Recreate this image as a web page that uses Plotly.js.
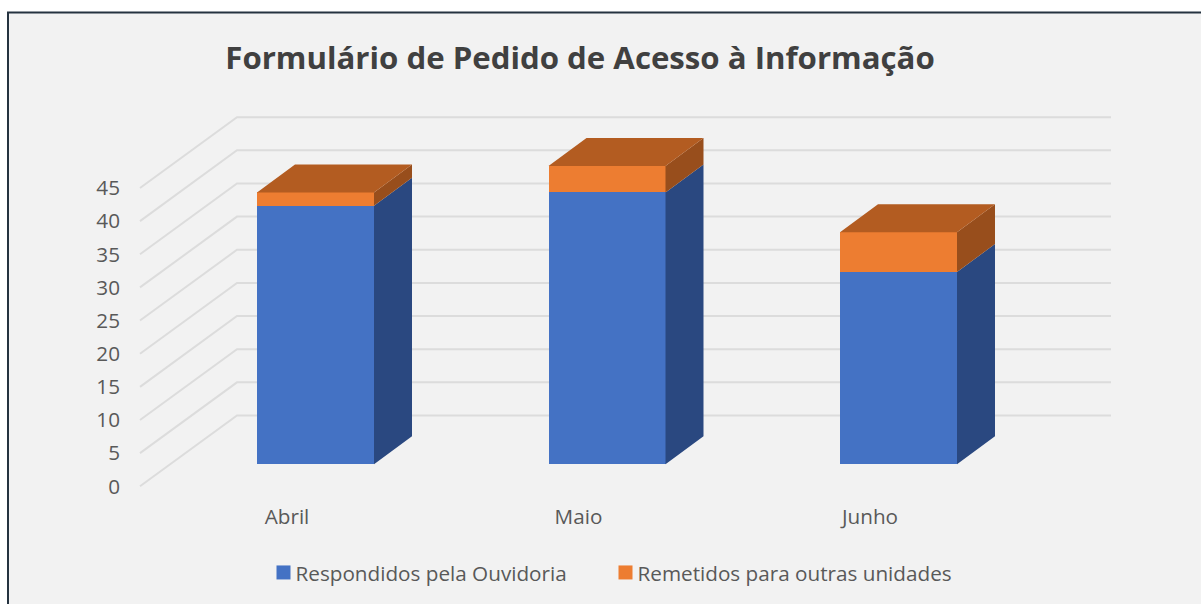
<!DOCTYPE html>
<html><head><meta charset="utf-8">
<script src="https://cdn.plot.ly/plotly-3.0.1.min.js"></script>
<style>html,body{margin:0;padding:0;background:#fff;overflow:hidden}#c{width:1201px;height:604px}</style>
</head><body><div id="c"></div>
<script>
// Data
const months = ['Abril', 'Maio', 'Junho'];
const respondidos = [39, 41, 29];
const remetidos = [2, 4, 6];
const axisTicks = [0, 5, 10, 15, 20, 25, 30, 35, 40, 45];
const seriesNames = ['Respondidos pela Ouvidoria', 'Remetidos para outras unidades'];
const chartTitle = 'Formulário de Pedido de Acesso à Informação';

// Layout / projection constants (pixels of the oblique 3D look)
const W = 1201, H = 604;
const plot = {l: 121, r: 1140, t: 100, b: 502};
const stepX = 291.5, pxPerUnit = 6.63;
const labelX0 = 287, labelY0 = 486.3;   // axis tick plane
const barX0 = 315.5, barY0 = 464.3, barW = 117; // bar front plane
const depthPx = {x: 38, y: 28};
const wall = {frontX: 140, backX: 237, rightX: 1111, backY0: 415.5};
const FONT = '"Open Sans", sans-serif';

const xRange = x0 => [(plot.l - x0) / stepX, (plot.r - x0) / stepX];
const yRange = y0 => [(y0 - plot.b) / pxPerUnit, (y0 - plot.t) / pxPerUnit];
const xLab = px => (px - labelX0) / stepX;
const xPaper = px => (px - plot.l) / (plot.r - plot.l);
const yPaper = px => (plot.b - px) / (plot.b - plot.t);

// Walls and gridlines, on the axis plane
const gx = [], gy = [];
const wallRise = (labelY0 - wall.backY0) / pxPerUnit;
axisTicks.forEach(v => {
  gx.push(xLab(wall.frontX), xLab(wall.backX), xLab(wall.rightX), null);
  gy.push(v, v + wallRise, v + wallRise, null);
});

// Depth faces of the bars, on the bar plane
const dx = depthPx.x / stepX, dv = depthPx.y / pxPerUnit, hw = barW / stepX / 2;
function faces(fn) {
  const x = [], y = [];
  months.forEach((m, i) => fn(i, x, y));
  return {x, y};
}
const side = (lo, hi) => (i, x, y) => {
  const r = i + hw, a = lo(i), b = hi(i);
  x.push(r, r + dx, r + dx, r, r, null);
  y.push(a, a + dv, b + dv, b, a, null);
};
const total = i => respondidos[i] + remetidos[i];
const sideBlue = faces(side(() => 0, i => respondidos[i]));
const sideOrange = faces(side(i => respondidos[i], total));
const top3d = faces((i, x, y) => {
  const l = i - hw, r = i + hw, t = total(i);
  x.push(l, r, r + dx, l + dx, l, null);
  y.push(t, t, t + dv, t + dv, t, null);
});
const face = (f, color) => ({
  x: f.x, y: f.y, xaxis: 'x2', yaxis: 'y2', type: 'scatter', mode: 'lines',
  fill: 'toself', fillcolor: color, line: {width: 0, color: color},
  showlegend: false, hoverinfo: 'skip'
});

const traces = [
  {x: gx, y: gy, type: 'scatter', mode: 'lines', line: {color: '#DCDCDC', width: 2},
   showlegend: false, hoverinfo: 'skip', connectgaps: false},
  {x: months.map((m, i) => i), y: respondidos, name: seriesNames[0], type: 'bar', xaxis: 'x2', yaxis: 'y2',
   width: barW / stepX, marker: {color: '#4472C4'}},
  {x: months.map((m, i) => i), y: remetidos, name: seriesNames[1], type: 'bar', xaxis: 'x2', yaxis: 'y2',
   width: barW / stepX, marker: {color: '#ED7D31'}},
  face(sideBlue, '#2A4880'),
  face(sideOrange, '#984E1C'),
  face(top3d, '#B35C21')
];

const tickFont = {family: FONT, size: 20.7, color: '#595959'};
const layout = {
  width: W, height: H,
  margin: {l: plot.l, r: W - plot.r, t: plot.t, b: H - plot.b, pad: 0, autoexpand: false},
  paper_bgcolor: '#FFFFFF', plot_bgcolor: 'rgba(0,0,0,0)',
  font: {family: FONT},
  title: {text: '<b>' + chartTitle + '</b>', font: {family: FONT, size: 31.2, color: '#404040'},
          x: 580 / W, xanchor: 'center', y: 1 - 58 / H, yanchor: 'middle', xref: 'container', yref: 'container'},
  barmode: 'stack', bargap: 0,
  showlegend: true,
  legend: {orientation: 'h', x: xPaper(255.5), xanchor: 'left', y: yPaper(572.5), yanchor: 'middle',
           xref: 'paper', yref: 'paper', font: tickFont, bgcolor: 'rgba(0,0,0,0)', traceorder: 'normal',
           entrywidth: 297, entrywidthmode: 'pixels'},
  xaxis: {range: xRange(labelX0), tickmode: 'array', tickvals: months.map((m, i) => i), ticktext: months,
          tickfont: tickFont, ticks: '', showgrid: false, zeroline: false, showline: false, fixedrange: true},
  yaxis: {range: yRange(labelY0), tickmode: 'array', tickvals: axisTicks, ticktext: axisTicks.map(String),
          tickfont: tickFont, ticks: '', showgrid: false, zeroline: false, showline: false, fixedrange: true},
  xaxis2: {range: xRange(barX0), overlaying: 'x', anchor: 'y2', visible: false, fixedrange: true},
  yaxis2: {range: yRange(barY0), overlaying: 'y', anchor: 'x2', visible: false, fixedrange: true},
  shapes: [{type: 'rect', xref: 'paper', yref: 'paper', layer: 'below',
            x0: xPaper(8), x1: 1.2, y0: -0.5, y1: yPaper(12.5),
            fillcolor: '#F2F2F2', line: {color: '#253340', width: 2}}]
};
Plotly.newPlot('c', traces, layout, {displayModeBar: false, staticPlot: true}).then(() => {
  // Excel-style legend keys: slightly larger and closer to their text
  document.querySelectorAll('#c .legend .legendpoints').forEach(g => {
    g.setAttribute('transform', 'translate(8,0)');
    g.querySelectorAll('path').forEach(p => p.setAttribute('d', 'M7,7H-7V-7H7Z'));
  });
  document.querySelectorAll('#c .legend .scrollbox').forEach(g => g.removeAttribute('clip-path'));
  document.querySelectorAll('#c .legend .traces').forEach(g => {
    const t = g.querySelector('.legendtext'); if (t) t.removeAttribute('clip-path');
  });
});
</script></body></html>
